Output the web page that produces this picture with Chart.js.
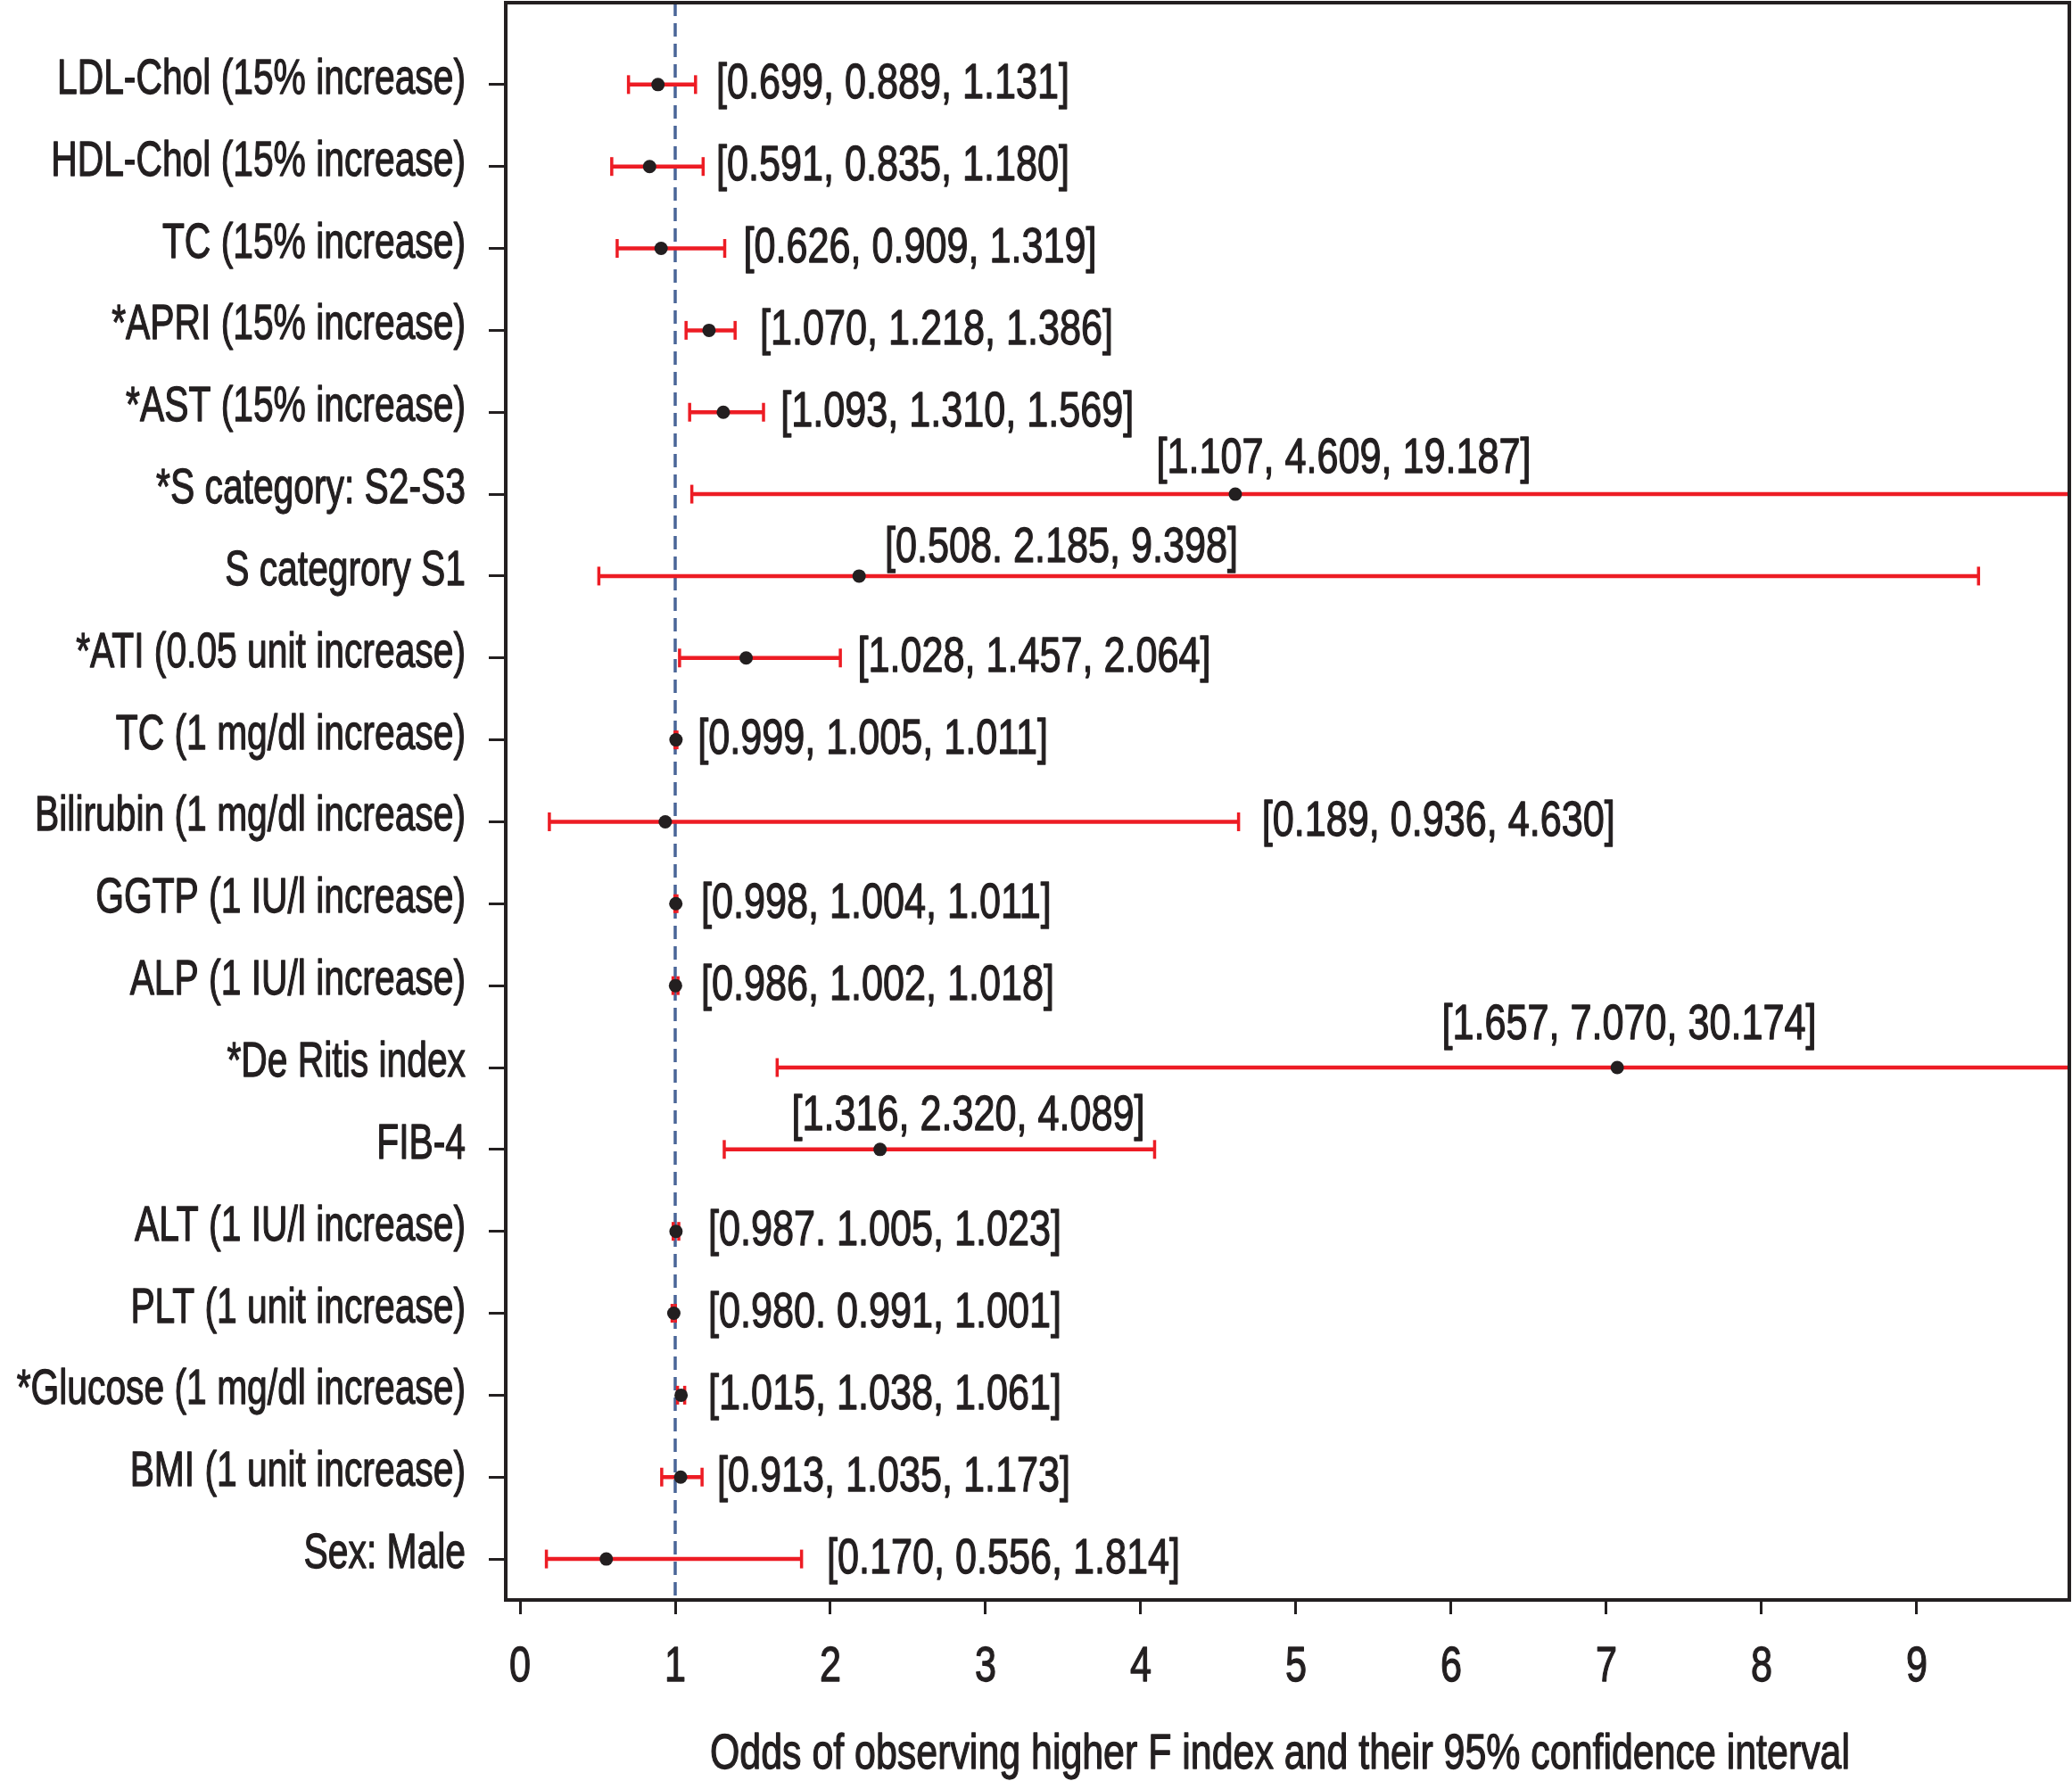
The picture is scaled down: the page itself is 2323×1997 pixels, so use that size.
<!DOCTYPE html>
<html>
<head>
<meta charset="utf-8">
<script src="https://cdn.jsdelivr.net/npm/chart.js@4.4.0/dist/chart.umd.min.js"></script>
<style>
  html, body { margin: 0; padding: 0; background: #fff; }
  #contenedor { width: 2323px; height: 1997px; position: relative; }
</style>
</head>
<body>
<div id="contenedor"><canvas id="grafico"></canvas></div>
<script>
// datos (de arriba hacia abajo)
const variables = [
    'LDL-Chol (15% increase)', 'HDL-Chol (15% increase)', 'TC (15% increase)',
    '*APRI (15% increase)', '*AST (15% increase)', '*S category: S2-S3',
    'S categrory S1', '*ATI (0.05 unit increase)', 'TC (1 mg/dl increase)',
    'Bilirubin (1 mg/dl increase)', 'GGTP (1 IU/l increase)', 'ALP (1 IU/l increase)',
    '*De Ritis index', 'FIB-4', 'ALT (1 IU/l increase)', 'PLT (1 unit increase)',
    '*Glucose (1 mg/dl increase)', 'BMI (1 unit increase)', 'Sex: Male'
];
const ciLow = [0.699, 0.591, 0.626, 1.070, 1.093, 1.107, 0.508, 1.028, 0.999, 0.189,
    0.998, 0.986, 1.657, 1.316, 0.987, 0.980, 1.015, 0.913, 0.170];
const oddsRatio = [0.889, 0.835, 0.909, 1.218, 1.310, 4.609, 2.185, 1.457, 1.005, 0.936,
    1.004, 1.002, 7.070, 2.320, 1.005, 0.991, 1.038, 1.035, 0.556];
const ciHigh = [1.131, 1.180, 1.319, 1.386, 1.569, 19.187, 9.398, 2.064, 1.011, 4.630,
    1.011, 1.018, 30.174, 4.089, 1.023, 1.001, 1.061, 1.173, 1.814];
const notas = [
    '[0.699, 0.889, 1.131]', '[0.591, 0.835, 1.180]', '[0.626, 0.909, 1.319]',
    '[1.070, 1.218, 1.386]', '[1.093, 1.310, 1.569]', '[1.107, 4.609, 19.187]',
    '[0.508. 2.185, 9.398]', '[1.028, 1.457, 2.064]', '[0.999, 1.005, 1.011]',
    '[0.189, 0.936, 4.630]', '[0.998, 1.004, 1.011]', '[0.986, 1.002, 1.018]',
    '[1.657, 7.070, 30.174]', '[1.316, 2.320, 4.089]', '[0.987. 1.005, 1.023]',
    '[0.980. 0.991, 1.001]', '[1.015, 1.038, 1.061]', '[0.913, 1.035, 1.173]',
    '[0.170, 0.556, 1.814]'
];
const xTicks = [0, 1, 2, 3, 4, 5, 6, 7, 8, 9];
const tituloX = 'Odds of observing higher F index and their 95% confidence interval';

// donde empieza cada nota (en unidades del eje x) y su desplazamiento vertical (en filas)
const notaX = [1.264, 1.264, 1.44, 1.546, 1.68, 4.10, 2.35, 2.175, 1.145, 4.78,
    1.167, 1.167, 5.94, 1.75, 1.213, 1.213, 1.213, 1.27, 1.977];
const notaDy = [0.17, 0.17, 0.17, 0.17, 0.17, -0.26, -0.17, 0.17, 0.17, 0.17,
    0.17, 0.17, -0.35, -0.24, 0.17, 0.17, 0.17, 0.17, 0.17];

const ROJO = '#ed1c24';
const NEGRO = '#231f20';
const AZUL = '#4a6598';
const FUENTE = "'Liberation Sans Narrow', 'Liberation Sans', Arial, sans-serif";
const TAM = 55;

function textoAngosto(ctx, texto, x, y, escala, align) {
    const w = ctx.measureText(texto).width * escala;
    let x0 = x;
    if (align === 'right') x0 = x - w;
    else if (align === 'center') x0 = x - w / 2;
    ctx.save();
    ctx.translate(x0, y);
    ctx.scale(escala, 1);
    ctx.textAlign = 'left';
    ctx.textBaseline = 'alphabetic';
    ctx.fillText(texto, 0, 0);
    ctx.strokeText(texto, 0, 0);
    ctx.restore();
}

const textos = {
    id: 'textos',
    afterDraw(chart) {
        const ctx = chart.ctx;
        const xs = chart.scales.x;
        const ys = chart.scales.y;
        const area = chart.chartArea;
        ctx.save();

        // marco
        ctx.strokeStyle = NEGRO;
        ctx.lineWidth = 4;
        ctx.strokeRect(area.left, area.top, area.right - area.left, area.bottom - area.top);

        ctx.fillStyle = NEGRO;
        ctx.lineWidth = 1.3;
        ctx.lineJoin = 'round';
        ctx.font = `${TAM}px ${FUENTE}`;
        const escEtiq = 458 / ctx.measureText(variables[0]).width;
        const escNota = 396 / ctx.measureText(notas[18]).width;
        const escTitulo = 1278 / ctx.measureText(tituloX).width;

        variables.forEach((v, i) => {
            textoAngosto(ctx, v, area.left - 45, ys.getPixelForValue(i) + 10, escEtiq, 'right');
        });
        notas.forEach((n, i) => {
            textoAngosto(ctx, n, xs.getPixelForValue(notaX[i]), ys.getPixelForValue(i + notaDy[i]), escNota, 'left');
        });
        xTicks.forEach(t => {
            textoAngosto(ctx, String(t), xs.getPixelForValue(t), area.bottom + 91, escNota, 'center');
        });
        textoAngosto(ctx, tituloX, 1435, area.bottom + 189, escTitulo, 'center');
        ctx.restore();
    }
};

const segmentos = variables.map((v, i) => ({
    type: 'scatter',
    showLine: true,
    data: [{ x: ciLow[i], y: i }, { x: ciHigh[i], y: i }],
    borderColor: ROJO,
    borderWidth: 4.5,
    pointRadius: 0,
    order: 2
}));

const config = {
    type: 'scatter',
    data: {
        datasets: [
            {
                data: oddsRatio.map((v, i) => ({ x: v, y: i })),
                backgroundColor: NEGRO,
                borderWidth: 0,
                pointRadius: 7.5,
                order: 0
            },
            {
                data: variables.flatMap((v, i) => [{ x: ciLow[i], y: i }, { x: ciHigh[i], y: i }]),
                pointStyle: 'line',
                rotation: 90,
                pointRadius: 10.5,
                borderColor: ROJO,
                borderWidth: 3.5,
                order: 1
            },
            ...segmentos,
            {
                showLine: true,
                data: [{ x: 1, y: -1 }, { x: 1, y: 18.5 }],
                borderColor: AZUL,
                borderWidth: 3.5,
                borderDash: [15, 8],
                pointRadius: 0,
                order: 3
            }
        ]
    },
    options: {
        responsive: true,
        maintainAspectRatio: false,
        devicePixelRatio: 1,
        animation: false,
        events: [],
        layout: { autoPadding: false, padding: { top: 3, right: 3, left: 0, bottom: 0 } },
        plugins: {
            legend: { display: false },
            tooltip: { enabled: false }
        },
        scales: {
            x: {
                type: 'linear',
                min: -0.092,
                max: 9.983,
                afterBuildTicks: s => { s.ticks = xTicks.map(v => ({ value: v })); },
                ticks: { display: false },
                grid: { drawOnChartArea: false, drawTicks: true, tickLength: 16, color: NEGRO, lineWidth: 3 },
                border: { display: false },
                afterFit: s => { s.height = 203; }
            },
            y: {
                type: 'linear',
                reverse: true,
                min: -1,
                max: 18.5,
                afterBuildTicks: s => { s.ticks = variables.map((v, i) => ({ value: i })); },
                ticks: { display: false },
                grid: { drawOnChartArea: false, drawTicks: true, tickLength: 19, color: NEGRO, lineWidth: 3 },
                border: { display: false },
                afterFit: s => { s.width = 567; }
            }
        }
    },
    plugins: [textos]
};

new Chart(document.getElementById('grafico').getContext('2d'), config);
</script>
</body>
</html>
